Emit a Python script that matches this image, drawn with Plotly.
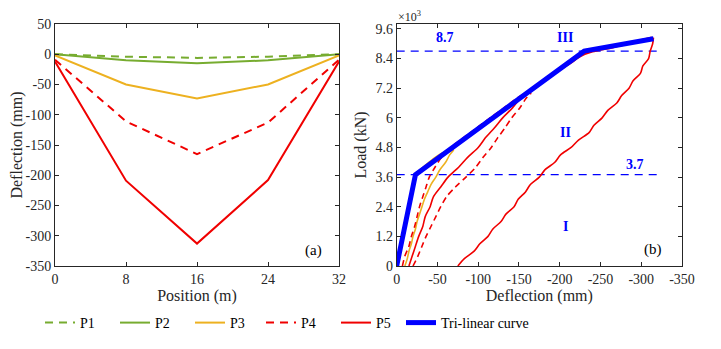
import plotly.graph_objects as go

# ---------------- data: panel (a) ----------------
position = [0, 8, 16, 24, 32]
p1_defl = [0, -4, -6, -4, 0]
p2_defl = [0, -10, -15, -10, 0]
p3_defl = [-2, -50, -73, -50, -2]
p4_defl = [-9, -111, -165, -113, -9]
p5_defl = [-12, -209, -313, -208, -12]

# ---------------- data: panel (b) ----------------
trilinear_x = [0, -23, -230, -315]
trilinear_y = [0, 3700, 8700, 9200]

p3_unload_x = [-10, -13, -15, -18, -20, -23, -25, -28, -31, -34, -38, -42, -48, -53, -60, -65, -70]
p3_unload_y = [0, 300, 600, 900, 1200, 1500, 1800, 2100, 2400, 2700, 3000, 3300, 3600, 3900, 4200, 4500, 4700]
p3_load_x = [-23, -35, -45, -55, -63, -70]
p3_load_y = [3700, 4050, 4320, 4540, 4650, 4720]

p4a_x = [-7, -10, -15, -18, -22, -25, -28, -32, -36, -40, -47, -55, -68, -87]
p4a_y = [0, 400, 800, 1200, 1600, 2000, 2400, 2800, 3200, 3600, 4000, 4400, 4800, 5200]

p4b_x = [-20, -26, -31, -36, -42, -48, -54, -61, -72, -85, -97, -106, -116, -124, -133, -141, -151, -159, -165]
p4b_y = [0, 400, 800, 1200, 1600, 2000, 2400, 2800, 3200, 3600, 4000, 4400, 4800, 5200, 5600, 6000, 6400, 6800, 7000]
p4_load_x = [-70, -90, -110, -130, -150, -163]
p4_load_y = [4880, 5370, 5860, 6340, 6830, 7080]

p5a_x = [-15, -19, -23, -27, -32, -35, -41, -45, -54, -63, -76, -87, -100, -109, -120, -130, -142, -152, -160]
p5a_y = [0, 400, 800, 1200, 1600, 2000, 2400, 2800, 3200, 3600, 4000, 4400, 4800, 5200, 5600, 6000, 6400, 6800, 7000]

p5b_x = [-75, -83, -95, -102, -112, -118, -128, -134, -144, -149, -158, -164, -175, -182, -194, -201,
         -214, -223, -236, -242, -252, -259, -270, -276, -285, -290, -299, -302, -309, -311, -314, -315]
p5b_y = [0, 300, 600, 900, 1200, 1500, 1800, 2100, 2400, 2700, 3000, 3300, 3600, 3900, 4200, 4500,
         4800, 5100, 5400, 5700, 6000, 6300, 6600, 6900, 7200, 7500, 7800, 8100, 8400, 8700, 9000, 9250]
p5_load_x = [-200, -212, -225, -240, -265, -290, -313]
p5_load_y = [7960, 8200, 8500, 8690, 8860, 9060, 9240]

level_lines = [3700, 8700]
level_x = [0, -320]

x_ticks_b = [0, -50, -100, -150, -200, -250, -300, -350]
x_ticklabels_b = ['0', '-50', '-100', '-150', '-200', '-250', '-300', '-350']
y_ticks_b = [0, 1200, 2400, 3600, 4800, 6000, 7200, 8400, 9600]
y_ticklabels_b = ['0', '1.2', '2.4', '3.6', '4.8', '6', '7.2', '8.4', '9.6']
y_ticks_a = [-350, -300, -250, -200, -150, -100, -50, 0, 50]
y_ticklabels_a = ['-350', '-300', '-250', '-200', '-150', '-100', '-50', '0', '50']

GREEN = '#77AC30'
ORANGE = '#EDB120'
RED = '#F00000'
BLUE = '#0000FF'
DASH = '8px,6px'
FONT = 'Liberation Serif'
AX = '#262626'

W, H = 721, 349
OFF = 8  # page body offset (px) compensated in layout positions


def px_x(p):
    return (p - OFF) / W


def px_y(p):
    return 1 - (p - OFF) / H


fig = go.Figure()

# panel (a)
fig.add_trace(go.Scatter(x=position, y=p1_defl, mode='lines', name='P1', legend='legend',
                         line=dict(color=GREEN, width=2, dash=DASH), xaxis='x', yaxis='y'))
fig.add_trace(go.Scatter(x=position, y=p2_defl, mode='lines', name='P2', legend='legend',
                         line=dict(color=GREEN, width=2), xaxis='x', yaxis='y'))
fig.add_trace(go.Scatter(x=position, y=p3_defl, mode='lines', name='P3', legend='legend',
                         line=dict(color=ORANGE, width=2), xaxis='x', yaxis='y'))
fig.add_trace(go.Scatter(x=position, y=p4_defl, mode='lines', name='P4', legend='legend2',
                         line=dict(color=RED, width=2, dash=DASH), xaxis='x', yaxis='y'))
fig.add_trace(go.Scatter(x=position, y=p5_defl, mode='lines', name='P5', legend='legend2',
                         line=dict(color=RED, width=2), xaxis='x', yaxis='y'))


# panel (b)
def add_b(x, y, color, dash=None, width=1.6, shape='spline'):
    fig.add_trace(go.Scatter(x=x, y=y, mode='lines', showlegend=False,
                             line=dict(color=color, width=width, dash=dash, shape=shape, smoothing=0.8),
                             xaxis='x2', yaxis='y2'))


for lv in level_lines:
    add_b(level_x, [lv, lv], BLUE, DASH, 1.4, 'linear')

add_b(p5b_x, p5b_y, RED)
add_b(p4b_x, p4b_y, RED, '6px,4px')
add_b(p5a_x, p5a_y, RED)
add_b(p3_unload_x, p3_unload_y, ORANGE)
add_b(p3_load_x, p3_load_y, ORANGE, None, 2.5)
add_b(p4a_x, p4a_y, RED, '6px,4px')
add_b(p4_load_x, p4_load_y, RED, '6px,4px', 2.5)
add_b(p5_load_x, p5_load_y, RED, None, 2.5)

fig.add_trace(go.Scatter(x=trilinear_x, y=trilinear_y, mode='lines', name='Tri-linear curve',
                         legend='legend3',
                         line=dict(color=BLUE, width=5), xaxis='x2', yaxis='y2'))

axis_common = dict(showgrid=False, zeroline=False, showline=True, linecolor=AX, linewidth=1,
                   mirror='ticks', ticks='inside', ticklen=4, tickcolor=AX, automargin=False,
                   tickfont=dict(family=FONT, size=14, color=AX))

legend_common = dict(orientation='h', y=px_y(323), yanchor='middle', xanchor='left',
                     font=dict(family=FONT, size=14, color='black'),
                     bgcolor='rgba(0,0,0,0)')

y_dom = [px_y(266), px_y(24)]

fig.update_layout(
    width=W, height=H,
    margin=dict(l=0, r=0, t=0, b=0),
    paper_bgcolor='white', plot_bgcolor='white',
    font=dict(family=FONT, size=14, color=AX),
    xaxis=dict(domain=[px_x(55), px_x(339)], range=[0, 32], tickvals=position,
               title=dict(text='Position (m)', font=dict(size=16), standoff=2), **axis_common),
    yaxis=dict(domain=y_dom, range=[-350, 50], tickvals=y_ticks_a, ticktext=y_ticklabels_a,
               title=dict(text='Deflection (mm)', font=dict(size=16), standoff=6), **axis_common),
    xaxis2=dict(domain=[px_x(396.7), px_x(682)], range=[0, -350], tickvals=x_ticks_b,
                ticktext=x_ticklabels_b, anchor='y2',
                title=dict(text='Deflection (mm)', font=dict(size=16), standoff=2), **axis_common),
    yaxis2=dict(domain=y_dom, range=[0, 9800], tickvals=y_ticks_b, ticktext=y_ticklabels_b,
                anchor='x2',
                title=dict(text='Load (kN)', font=dict(size=16), standoff=4), **axis_common),
    legend=dict(x=px_x(40), entrywidth=30, **legend_common),
    legend2=dict(x=px_x(261), entrywidth=30, **legend_common),
    legend3=dict(x=px_x(401), **legend_common),
)


def ann(text, x, y, xref, yref, color=BLUE, bold=True, size=14):
    fig.add_annotation(text=('<b>%s</b>' % text) if bold else text, x=x, y=y, xref=xref, yref=yref,
                       showarrow=False, font=dict(family=FONT, size=size, color=color))


ann('8.7', -59, 9250, 'x2', 'y2')
ann('III', -207, 9250, 'x2', 'y2')
ann('II', -207, 5400, 'x2', 'y2')
ann('3.7', -292, 4130, 'x2', 'y2')
ann('I', -207, 1580, 'x2', 'y2')
ann('(b)', -315, 650, 'x2', 'y2', color='black', bold=False, size=15)
ann('(a)', 29.1, -325, 'x', 'y', color='black', bold=False, size=15)
fig.add_annotation(text='×10<sup>3</sup>', x=px_x(397), y=1.0, xref='paper', yref='paper',
                   showarrow=False, xanchor='left', yanchor='top', borderpad=0,
                   font=dict(family=FONT, size=12, color=AX))

fig.write_html('out.html')
